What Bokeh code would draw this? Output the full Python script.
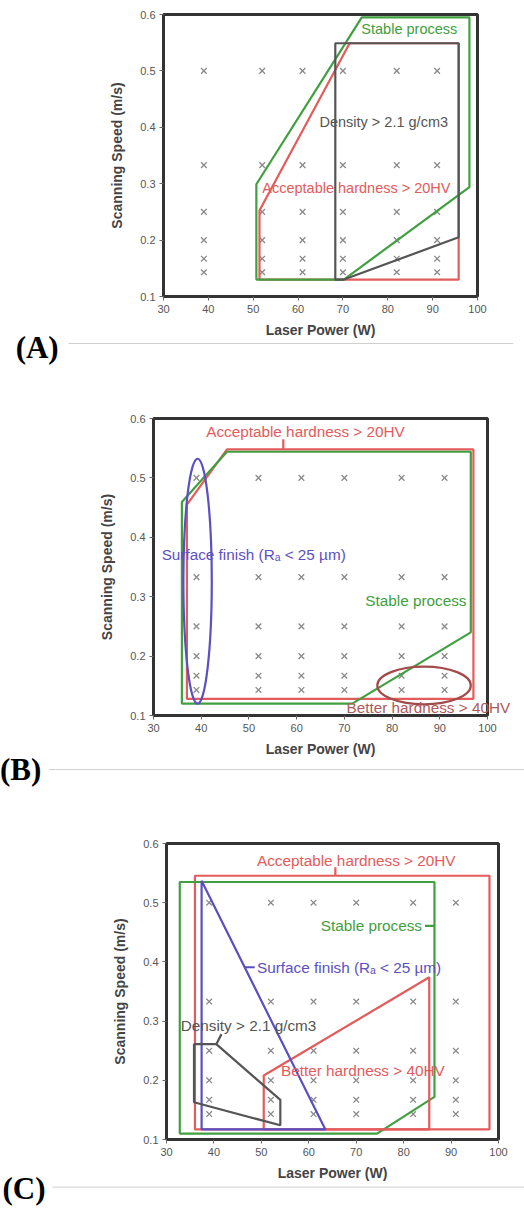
from bokeh.plotting import figure
from bokeh.models import Range1d, Label
from bokeh.layouts import column
from bokeh.embed import file_html
from bokeh.resources import INLINE

# ---------------- data ----------------
power = [39, 52, 61, 70, 82, 91]               # W
speed = [0.5, 0.333, 0.25, 0.2, 0.167, 0.143]  # m/s
x_ticks = [30, 40, 50, 60, 70, 80, 90, 100]
y_ticks = [0.1, 0.2, 0.3, 0.4, 0.5, 0.6]

# Panel A regions
a_stable_w = [50.7, 50.7, 74.2, 98.2, 98.2, 70.2]
a_stable_s = [0.13, 0.299, 0.595, 0.595, 0.294, 0.13]
a_hard_w = [51.4, 51.4, 71.5, 95.8, 95.8]
a_hard_s = [0.13, 0.2525, 0.549, 0.549, 0.13]
a_dens_w = [68.3, 68.3, 95.8, 95.8, 70.2]
a_dens_s = [0.13, 0.549, 0.549, 0.205, 0.13]

# Panel B regions
b_hard_w = [37.0, 37.0, 45.4, 97.05, 97.05]
b_hard_s = [0.128, 0.455, 0.548, 0.548, 0.128]
b_stable_w = [35.95, 35.95, 45.4, 96.5, 96.5, 71.65]
b_stable_s = [0.12, 0.4595, 0.544, 0.544, 0.24, 0.12]
b_surf_center = (39.24, 0.326)
b_surf_size = (5.95, 0.413)
b_better_center = (86.7, 0.1506)
b_better_size = (19.6, 0.0635)
b_hard_leader_w = [57.2, 57.2]
b_hard_leader_s = [0.548, 0.565]

# Panel C regions
c_hard_w = [36.0, 36.0, 98.1, 98.1]
c_hard_s = [0.117, 0.5455, 0.5455, 0.117]
c_stable_w = [32.8, 32.8, 86.5, 86.5, 74.4]
c_stable_s = [0.110, 0.535, 0.535, 0.172, 0.110]
c_surf_w = [37.4, 37.4, 63.5]
c_surf_s = [0.117, 0.537, 0.117]
c_better_w = [50.5, 50.5, 85.4, 85.4]
c_better_s = [0.117, 0.208, 0.374, 0.117]
c_dens_w = [35.8, 35.8, 40.5, 54.0, 54.0]
c_dens_s = [0.163, 0.261, 0.261, 0.167, 0.124]
c_hard_leader_w = [65.6, 65.6]
c_hard_leader_s = [0.5455, 0.560]
c_stable_leader_w = [84.5, 86.5]
c_stable_leader_s = [0.461, 0.461]
c_surf_leader_w = [46.5, 48.6]
c_surf_leader_s = [0.391, 0.391]
c_dens_leader_w = [40.5, 41.6]
c_dens_leader_s = [0.261, 0.278]

# ---------------- styles ----------------
GREEN = "#40a040"
RED = "#e35b5b"
GREY = "#555555"
BLUE = "#5b4fc4"
BROWN = "#a34a4a"
SANS = "Liberation Sans"
LW = 2.2
W = 524

grid_w = [p for s in speed for p in power]
grid_s = [s for s in speed for p in power]


def make_panel(height, left, right, top, bottom):
    p = figure(width=W, height=height, x_range=Range1d(30, 100),
               y_range=Range1d(0.1, 0.6), output_backend="svg",
               toolbar_location=None, min_border_left=left,
               min_border_right=right, min_border_top=top,
               min_border_bottom=bottom, frame_align=False)
    p.xgrid.visible = False
    p.ygrid.visible = False
    p.outline_line_color = "#333333"
    p.outline_line_width = 3
    p.background_fill_color = "white"
    p.border_fill_color = "white"
    p.xaxis.ticker = x_ticks
    p.yaxis.ticker = y_ticks
    p.xaxis.axis_label = "Laser Power (W)"
    p.yaxis.axis_label = "Scanning Speed (m/s)"
    for ax in (p.xaxis, p.yaxis):
        ax.axis_line_color = None
        ax.major_tick_line_color = "#666666"
        ax.major_tick_out = 4
        ax.major_tick_in = 0
        ax.minor_tick_line_color = None
        ax.major_label_text_font = SANS
        ax.major_label_text_font_size = "11px"
        ax.major_label_text_color = "#555555"
        ax.major_label_standoff = 4
        ax.axis_label_text_font = SANS
        ax.axis_label_text_font_size = "14px"
        ax.axis_label_text_font_style = "bold"
        ax.axis_label_text_color = "#444444"
    p.xaxis.axis_label_standoff = 6
    p.yaxis.axis_label_standoff = 12
    p.scatter(grid_w, grid_s, marker="x", size=8, line_color="#8a8a8a",
              line_width=1.3)
    p._geom = (height, left, right, top, bottom)
    return p


def make_overlay(panel, ov_top):
    """Transparent strip that shares the panel's data scale, laid over the
    bottom part of the panel (from ov_top px down to the panel's bottom)."""
    height, left, right, top, bottom = panel._geom
    x0, x1 = left, W - right
    y0, y1 = top, height - bottom
    kx = 70.0 / (x1 - x0)
    ky = 0.5 / (y1 - y0)
    ov_h = height - ov_top
    xr = Range1d(30 - x0 * kx, 30 + (W - x0) * kx)
    yr = Range1d(0.6 - (height - y0) * ky, 0.6 - (ov_top - y0) * ky)
    o = figure(width=W, height=ov_h, x_range=xr, y_range=yr,
               output_backend="svg", toolbar_location=None,
               x_axis_type=None, y_axis_type=None, min_border=0,
               margin=(-ov_h, 0, 0, 0), frame_align=False)
    o.xgrid.visible = False
    o.ygrid.visible = False
    o.outline_line_color = None
    o.background_fill_color = None
    o.border_fill_color = None
    return o


def add_text(p, x, y, text, color, size):
    p.add_layout(Label(x=x, y=y, text=text, text_color=color,
                       text_font=SANS, text_font_size=size,
                       text_align="center", text_baseline="middle"))


def add_caption(o, x, y, text, line_x0, line_x1, line_y):
    o.line([line_x0, line_x1], [line_y, line_y], line_color="#cfcfcf",
           line_width=1)
    o.add_layout(Label(x=x, y=y, text=text, text_color="black",
                       text_font="Liberation Serif", text_font_style="bold",
                       text_font_size="31px", text_align="left",
                       text_baseline="middle"))


# ---------------- panel A ----------------
pa = make_panel(366, 163, 47, 14, 70)
pa.patch(a_hard_w, a_hard_s, fill_color=None, line_color=RED, line_width=LW)
pa.patch(a_stable_w, a_stable_s, fill_color=None, line_color=GREEN, line_width=LW)
pa.patch(a_dens_w, a_dens_s, fill_color=None, line_color=GREY, line_width=LW)
add_text(pa, 84.8, 0.575, "Stable process", GREEN, "14.5px")
add_text(pa, 79.1, 0.409, "Density > 2.1 g/cm3", GREY, "14.5px")
add_text(pa, 73.0, 0.292, "Acceptable hardness > 20HV", RED, "14.5px")
oa = make_overlay(pa, 322)
add_caption(oa, -2.96, 0.0096, "(A)", 8.84, 107.95, 0.0167)

# ---------------- panel B ----------------
pb = make_panel(424, 153, 37, 52, 75)
pb.patch(b_hard_w, b_hard_s, fill_color=None, line_color=RED, line_width=LW)
pb.line(b_hard_leader_w, b_hard_leader_s, line_color=RED, line_width=LW)
pb.patch(b_stable_w, b_stable_s, fill_color=None, line_color=GREEN, line_width=LW)
pb.ellipse(x=[b_surf_center[0]], y=[b_surf_center[1]], width=b_surf_size[0],
           height=b_surf_size[1], fill_color=None, line_color=BLUE, line_width=LW)
pb.ellipse(x=[b_better_center[0]], y=[b_better_center[1]], width=b_better_size[0],
           height=b_better_size[1], fill_color=None, line_color=BROWN, line_width=LW)
add_text(pb, 61.85, 0.5775, "Acceptable hardness > 20HV", RED, "15.3px")
add_text(pb, 51.0, 0.371, "Surface finish (R\u2090 < 25 \u00b5m)", BLUE, "15.3px")
add_text(pb, 85.0, 0.293, "Stable process", GREEN, "15.3px")
ob = make_overlay(pb, 330)
# this label runs past the frame's right edge in the original
add_text(ob, 87.6, 0.113, "Better hardness > 40HV", "#b05a5a", "15.3px")
add_caption(ob, -2.19, 0.009, "(B)", 8.10, 108.5, 0.009)

# ---------------- panel C ----------------
pc = make_panel(419, 166, 26, 53, 70)
pc.patch(c_hard_w, c_hard_s, fill_color=None, line_color=RED, line_width=LW)
pc.line(c_hard_leader_w, c_hard_leader_s, line_color=RED, line_width=LW)
pc.patch(c_stable_w, c_stable_s, fill_color=None, line_color=GREEN, line_width=LW)
pc.line(c_stable_leader_w, c_stable_leader_s, line_color=GREEN, line_width=LW)
pc.patch(c_better_w, c_better_s, fill_color=None, line_color=RED, line_width=LW)
pc.patch(c_surf_w, c_surf_s, fill_color=None, line_color=BLUE, line_width=LW)
pc.line(c_surf_leader_w, c_surf_leader_s, line_color=BLUE, line_width=LW)
pc.patch(c_dens_w, c_dens_s, fill_color=None, line_color=GREY, line_width=LW)
pc.line(c_dens_leader_w, c_dens_leader_s, line_color=GREY, line_width=LW)
add_text(pc, 70.0, 0.571, "Acceptable hardness > 20HV", RED, "15.3px")
add_text(pc, 73.2, 0.462, "Stable process", GREEN, "15.3px")
add_text(pc, 68.5, 0.391, "Surface finish (R\u2090 < 25 \u00b5m)", BLUE, "15.3px")
add_text(pc, 47.3, 0.293, "Density > 2.1 g/cm3", GREY, "15.3px")
add_text(pc, 71.4, 0.217, "Better hardness > 40HV", RED, "15.3px")
oc = make_overlay(pc, 373)
add_caption(oc, -4.58, 0.018, "(C)", 5.96, 106.0, 0.0196)

layout = column(pa, oa, pb, ob, pc, oc, spacing=0)
open("out.html", "w").write(file_html(layout, INLINE))
